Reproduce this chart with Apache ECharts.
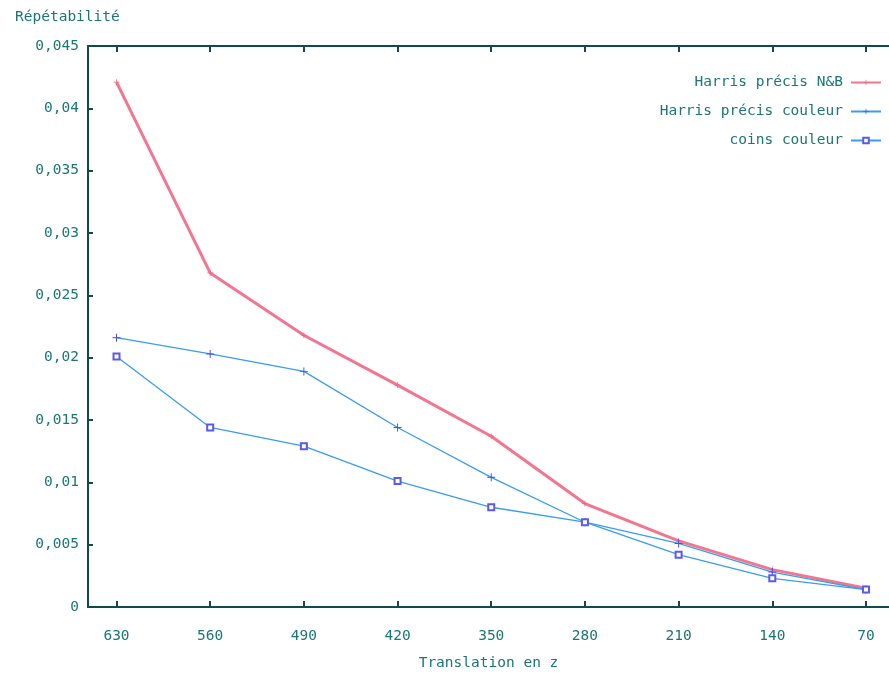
<!DOCTYPE html>
<html>
<head>
<meta charset="utf-8">
<script src="https://cdn.jsdelivr.net/npm/echarts@6/dist/echarts.min.js"></script>
<style>
html,body{margin:0;padding:0;background:#fff;}
#chart{width:889px;height:675px;}
</style>
</head>
<body>
<div id="chart"></div>
<script>
// Data
var translations = [630, 560, 490, 420, 350, 280, 210, 140, 70];
var harrisNB = [0.0421, 0.0268, 0.0218, 0.0178, 0.0137, 0.0083, 0.0053, 0.0030, 0.0015];
var harrisCouleur = [0.0216, 0.0203, 0.0189, 0.0144, 0.0104, 0.0068, 0.0051, 0.0028, 0.0014];
var coinsCouleur = [0.0201, 0.0144, 0.0129, 0.0101, 0.0080, 0.0068, 0.0042, 0.0023, 0.0014];
var seriesNames = ['Harris précis N&B', 'Harris précis couleur', 'coins couleur'];
var yTicks = [0, 0.005, 0.01, 0.015, 0.02, 0.025, 0.03, 0.035, 0.04, 0.045];

function pairs(vals) {
  return translations.map(function (t, i) { return [t, vals[i]]; });
}

var FONT = 'DejaVu Sans Mono';
var TXT = '#1b7676';
var AXIS = '#0e4c4c';
var plus = 'path://M4.4,0h1.2v10h-1.2zM0,4.4h10v1.2h-10z';

var chart = echarts.init(document.getElementById('chart'));
chart.setOption({
  backgroundColor: '#ffffff',
  animation: false,
  grid: { left: 88, right: 0, top: 46, bottom: 68, outerBoundsMode: 'none', containLabel: false },
  graphic: [{
    type: 'text', left: 15, top: 10,
    style: { text: 'Répétabilité', fill: TXT, font: '14.5px "' + FONT + '"' }
  }],
  legend: {
    orient: 'vertical', right: 7, top: 75, align: 'right', padding: 0,
    itemGap: 14, itemWidth: 30, itemHeight: 7,
    textStyle: { fontFamily: FONT, fontSize: 14.5, color: TXT, padding: [0, 3, 0, 0] },
    data: seriesNames
  },
  xAxis: [{
    type: 'value', inverse: true, min: 52.8, max: 651.3,
    name: 'Translation en z', nameLocation: 'middle', nameGap: 49,
    nameTextStyle: { fontFamily: FONT, fontSize: 14.5, color: TXT },
    splitLine: { show: false },
    axisLine: { show: true, lineStyle: { color: AXIS, width: 2 } },
    axisTick: { show: true, inside: true, length: 6, customValues: translations, lineStyle: { color: AXIS, width: 2 } },
    axisLabel: { customValues: translations, margin: 22, fontFamily: FONT, fontSize: 14.5, color: TXT }
  }, {
    type: 'value', inverse: true, min: 52.8, max: 651.3, position: 'top',
    splitLine: { show: false },
    axisLine: { show: true, lineStyle: { color: AXIS, width: 2 } },
    axisTick: { show: true, inside: true, length: 6, customValues: translations, lineStyle: { color: AXIS, width: 2 } },
    axisLabel: { show: false }
  }],
  yAxis: {
    type: 'value', min: 0, max: 0.045, interval: 0.005,
    splitLine: { show: false },
    axisLine: { show: true, lineStyle: { color: AXIS, width: 2 } },
    axisTick: { show: true, inside: true, length: 5, lineStyle: { color: AXIS, width: 2 } },
    axisLabel: {
      margin: 9, fontFamily: FONT, fontSize: 14.5, color: TXT,
      formatter: function (v) { return String(Number(v.toFixed(3))).replace('.', ','); }
    }
  },
  series: [{
    name: seriesNames[0], type: 'line', data: pairs(harrisNB),
    symbol: plus, symbolSize: 6,
    lineStyle: { color: '#f37590', width: 3 },
    itemStyle: { color: '#ee6580' }
  }, {
    name: seriesNames[1], type: 'line', data: pairs(harrisCouleur),
    symbol: plus, symbolSize: 8,
    lineStyle: { color: '#3a9cf0', width: 1.3 },
    itemStyle: { color: '#4a4ae8' }
  }, {
    name: seriesNames[2], type: 'line', data: pairs(coinsCouleur),
    symbol: 'emptyRect', symbolSize: 6,
    lineStyle: { color: '#3a9cf0', width: 1.3 },
    itemStyle: { color: '#5a5af0', borderColor: '#5a5af0', borderWidth: 1.2 }
  }]
});
</script>
</body>
</html>
